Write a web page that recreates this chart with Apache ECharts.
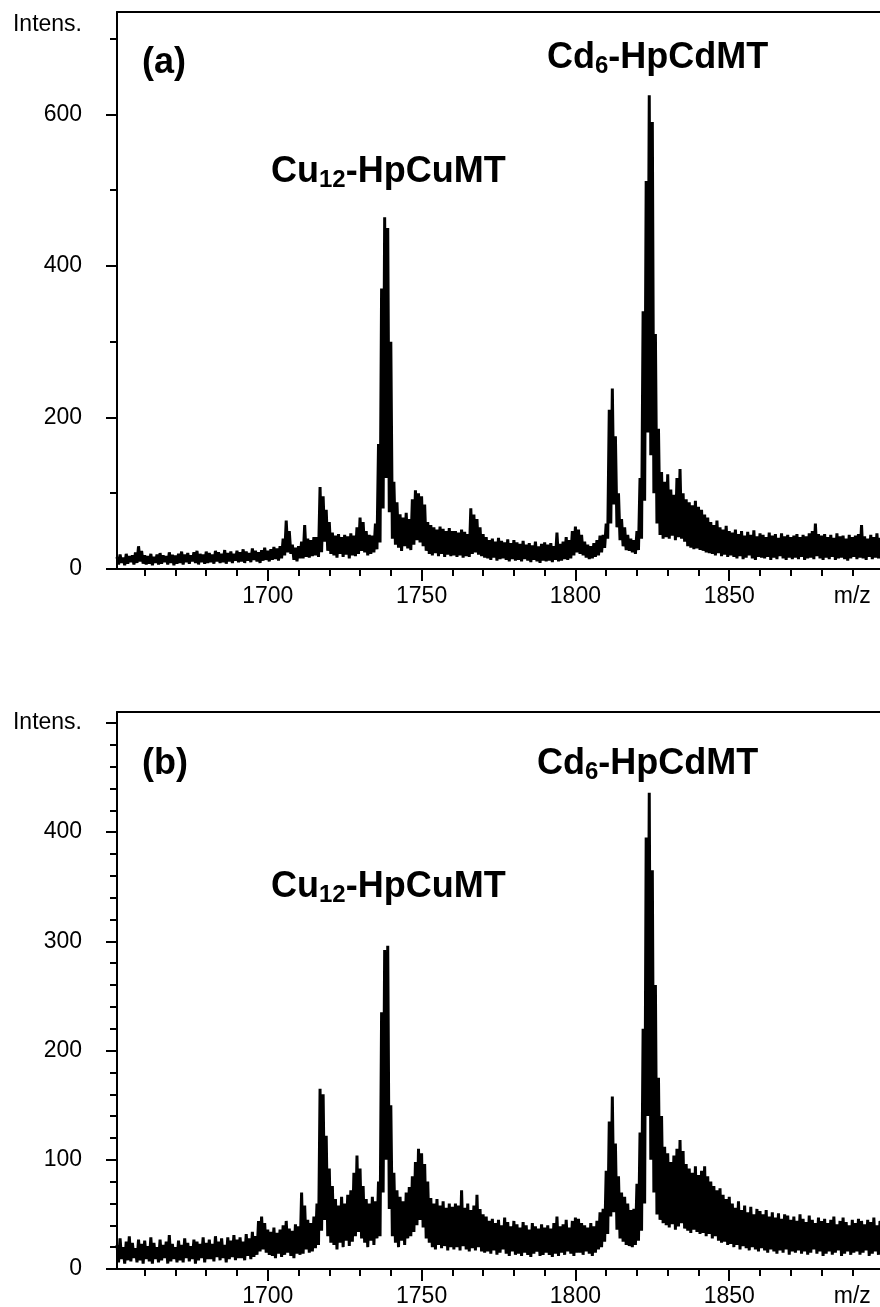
<!DOCTYPE html>
<html>
<head>
<meta charset="utf-8">
<title>Mass spectra (a) and (b)</title>
<script src="https://cdn.jsdelivr.net/npm/echarts@6/dist/echarts.min.js"></script>
<style>
  html, body { margin: 0; padding: 0; background: #fff; }
  #main { width: 880px; height: 1307px; }
</style>
</head>
<body>
<div id="main"></div>
<script>
// m/z grid: one upper and one lower reading of the noisy trace per unit
const mzStart = 1651;
const mzEnd = 1899;

const xMajorTicks = [1700, 1750, 1800, 1850];
const xMinorTicks = [1660, 1670, 1680, 1690, 1710, 1720, 1730, 1740, 1760, 1770,
  1780, 1790, 1810, 1820, 1830, 1840, 1860, 1870, 1880, 1890];
const xLabelValues = [1700, 1750, 1800, 1850, 1890]; // 1890 carries "m/z"

// panel (a)
const yMaxA = 735;
const yMajorA = [0, 200, 400, 600];
const yMinorA = [100, 300, 500, 700];
const yLabelsA = [0, 200, 400, 600, 718]; // 718 carries "Intens."

// panel (b)
const yMaxB = 510;
const yMajorB = [0, 100, 200, 300, 400, 500];
const yMinorB = [20, 40, 60, 80, 120, 140, 160, 180, 220, 240, 260, 280,
  320, 340, 360, 380, 420, 440, 460, 480];
const yLabelsB = [0, 100, 200, 300, 400, 500]; // 500 carries "Intens."

// upper edge of the trace, panel (a), m/z 1651..1899
const hiA = [
  16, 19, 15, 20, 17, 18, 22, 30, 24, 18,      // 1651
  17, 20, 16, 19, 21, 18, 17, 22, 19, 18,      // 1661
  20, 23, 19, 21, 18, 22, 24, 20, 19, 23,      // 1671
  21, 19, 24, 22, 20, 25, 21, 23, 20, 24,      // 1681
  22, 26, 23, 21, 27, 24, 22, 25, 28, 24,      // 1691
  26, 29, 27, 30, 40, 64, 50, 32, 28, 30,      // 1701
  36, 58, 40, 38, 42, 42, 108, 96, 78, 62,     // 1711
  48, 44, 46, 42, 45, 43, 47, 44, 55, 68,      // 1721
  62, 50, 45, 44, 60, 165, 370, 464, 450, 300, // 1731
  115, 88, 72, 68, 74, 66, 92, 104, 100, 96,   // 1741
  85, 62, 58, 55, 52, 56, 53, 50, 54, 50,      // 1751
  50, 48, 52, 49, 46, 80, 72, 66, 55, 46,      // 1761
  42, 38, 40, 36, 41, 37, 35, 39, 34, 38,      // 1771
  35, 33, 37, 32, 34, 31, 36, 30, 33, 35,      // 1781
  32, 34, 30, 48, 33, 36, 42, 38, 50, 56,      // 1791
  52, 45, 36, 32, 30, 34, 38, 44, 45, 60,      // 1801
  210, 238, 175, 100, 66, 55, 45, 40, 38, 50,  // 1811
  120, 340, 512, 625, 590, 310, 185, 128, 115, 125, // 1821
  105, 98, 120, 132, 100, 92, 88, 84, 90, 82,  // 1831
  78, 72, 68, 62, 58, 64, 55, 52, 57, 50,      // 1841
  48, 52, 46, 50, 44, 49, 45, 51, 43, 47,      // 1851
  45, 42, 48, 44, 46, 41, 47, 43, 45, 42,      // 1861
  44, 46, 42, 45, 43, 47, 50, 60, 46, 44,      // 1871
  46, 42, 45, 41, 47, 43, 44, 40, 45, 42,      // 1881
  44, 46, 58, 43, 40, 45, 42, 47, 41           // 1891
];

// lower edge of the trace, panel (a)
const loA = [
  6, 8, 5, 7, 9, 6, 8, 10, 7, 6,
  7, 5, 8, 6, 7, 9, 6, 8, 5, 7,
  8, 6, 9, 7, 10, 8, 6, 9, 7, 8,
  9, 7, 10, 8, 9, 7, 10, 8, 11, 9,
  10, 8, 11, 9, 12, 10, 8, 11, 12, 10,
  12, 13, 11, 14, 18, 22, 20, 12, 10, 14,
  14, 16, 15, 17, 18, 16, 22, 36, 24, 20,
  18, 15, 20, 16, 19, 14, 18, 17, 20, 24,
  22, 18, 20, 22, 26, 35, 80, 120, 75, 40,
  32, 28, 24, 30, 27, 25, 32, 38, 35, 30,
  24, 20, 18, 21, 17, 20, 16, 19, 17, 18,
  16, 18, 15, 17, 16, 20, 22, 19, 17, 15,
  14, 12, 15, 11, 13, 14, 12, 10, 13, 11,
  12, 10, 13, 11, 9, 12, 10, 8, 11, 10,
  11, 9, 12, 10, 11, 13, 12, 14, 18, 22,
  20, 18, 15, 13, 14, 16, 18, 22, 28, 40,
  60, 85, 55, 38, 30, 25, 24, 22, 20, 25,
  40, 90, 180, 150, 100, 60, 45, 40, 42, 40,
  44, 38, 42, 40, 36, 30, 28, 26, 27, 25,
  24, 22, 21, 20, 18, 21, 17, 19, 16, 18,
  16, 14, 17, 13, 15, 18, 14, 12, 16, 15,
  14, 16, 12, 15, 13, 17, 14, 12, 15, 13,
  15, 13, 16, 12, 14, 15, 13, 17, 14, 12,
  15, 13, 16, 12, 14, 15, 13, 11, 14, 16,
  13, 15, 14, 12, 16, 13, 15, 14, 12
];

// upper edge of the trace, panel (b)
const hiB = [
  22, 28, 20, 25, 30, 24, 19, 27, 23, 26,      // 1651
  21, 29, 24, 20, 27, 22, 25, 31, 23, 20,      // 1661
  26, 22, 28, 24, 21, 27, 25, 23, 29, 24,      // 1671
  27, 23, 30, 25, 28, 22, 29, 26, 31, 27,      // 1681
  29, 25, 32, 28, 34, 30, 44, 48, 42, 36,      // 1691
  34, 38, 33, 36, 40, 44, 37, 35, 41, 39,      // 1701
  70, 58, 45, 42, 48, 60, 165, 160, 122, 92,   // 1711
  76, 64, 58, 66, 60, 68, 72, 88, 104, 92,     // 1721
  76, 64, 60, 66, 62, 80, 235, 292, 296, 150,  // 1731
  88, 72, 66, 62, 70, 75, 85, 98, 110, 106,    // 1741
  96, 80, 65, 60, 64, 58, 62, 56, 60, 57,      // 1751
  60, 58, 72, 56, 60, 54, 58, 68, 55, 50,      // 1761
  48, 44, 46, 42, 45, 40, 47, 43, 39, 44,      // 1771
  41, 38, 43, 40, 36, 42, 39, 37, 41, 38,      // 1781
  40, 37, 42, 48, 39, 41, 45, 38, 44, 47,      // 1791
  46, 42, 40, 38, 42, 39, 44, 52, 55, 90,      // 1801
  135, 158, 115, 85, 70, 66, 60, 54, 55, 78,   // 1811
  125, 220, 395, 436, 365, 260, 175, 140, 112, 106, // 1821
  98, 104, 110, 118, 108, 96, 92, 88, 94, 86,  // 1831
  90, 94, 85, 80, 76, 72, 74, 68, 64, 66,      // 1841
  60, 56, 62, 54, 58, 52, 57, 50, 55, 53,      // 1851
  50, 54, 48, 52, 47, 51, 46, 50, 49, 45,      // 1861
  48, 44, 50, 46, 43, 49, 45, 42, 47, 44,      // 1871
  46, 42, 45, 48, 41, 44, 47, 43, 40, 45,      // 1881
  42, 46, 44, 41, 45, 43, 47, 40, 44           // 1891
];

// lower edge of the trace, panel (b)
const loB = [
  6, 9, 5, 8, 7, 10, 6, 8, 5, 9,
  7, 5, 9, 6, 8, 10, 5, 7, 9, 6,
  8, 6, 10, 7, 9, 5, 8, 10, 6, 9,
  9, 7, 11, 8, 10, 6, 9, 11, 8, 10,
  10, 8, 12, 9, 11, 13, 16, 18, 15, 13,
  12, 10, 14, 11, 13, 15, 12, 10, 14, 13,
  14, 18, 15, 16, 19, 22, 35, 45, 30, 24,
  22, 18, 24, 20, 26, 21, 25, 30, 34, 28,
  24, 20, 26, 22, 28, 30, 70, 100, 55, 30,
  24, 20, 26, 22, 28, 30, 34, 40, 45, 38,
  28, 24, 20, 18, 22, 19, 21, 17, 20, 18,
  20, 17, 21, 18, 16, 19, 17, 20, 16, 15,
  16, 14, 17, 13, 15, 18, 14, 12, 16, 13,
  14, 12, 15, 13, 11, 14, 16, 12, 13, 15,
  13, 11, 14, 12, 15, 13, 16, 14, 12, 15,
  15, 13, 16, 14, 12, 15, 18, 20, 25, 32,
  48, 52, 36, 28, 25, 22, 21, 20, 22, 26,
  35, 60, 140, 100, 70, 50, 45, 42, 40, 38,
  41, 36, 39, 42, 37, 35, 33, 36, 34, 32,
  33, 30, 32, 28, 30, 26, 24, 25, 22, 23,
  20, 22, 18, 21, 19, 17, 20, 18, 16, 19,
  17, 15, 18, 16, 14, 17, 15, 18, 13, 16,
  15, 17, 14, 16, 13, 15, 18, 14, 16, 12,
  14, 16, 13, 15, 17, 12, 14, 16, 13, 15,
  16, 13, 15, 17, 12, 14, 16, 13, 15
];

const black = '#000';
const font = 'Liberation Sans, Arial, Helvetica, sans-serif';
const axisStroke = { color: black, width: 2 };

// the trace swings between its upper and lower reading every half unit
function trace(hi, lo) {
  const pts = [];
  for (let i = 0; i < hi.length; i++) {
    pts.push([mzStart + i, hi[i]]);
    pts.push([mzStart + i + 0.5, lo[i]]);
  }
  return pts;
}

function xAxes(grid) {
  const base = { gridIndex: grid, type: 'value', min: mzStart, max: mzEnd, splitLine: { show: false }, z: 5 };
  return [
    Object.assign({}, base, {
      position: 'bottom',
      axisLine: { onZero: false, lineStyle: axisStroke },
      axisTick: { length: 12, customValues: xMajorTicks, lineStyle: axisStroke },
      axisLabel: {
        customValues: xLabelValues,
        formatter: (v) => (v === 1890 ? 'm/z' : String(v)),
        color: black, fontSize: 23, fontFamily: font, margin: 16
      }
    }),
    Object.assign({}, base, {
      position: 'bottom',
      axisLine: { show: false, onZero: false },
      axisTick: { length: 7, customValues: xMinorTicks, lineStyle: axisStroke },
      axisLabel: { show: false }
    }),
    Object.assign({}, base, {
      position: 'top',
      axisLine: { onZero: false, lineStyle: axisStroke },
      axisTick: { show: false },
      axisLabel: { show: false }
    })
  ];
}

function yAxes(grid, max, major, minor, labels, intensAt) {
  const base = { gridIndex: grid, type: 'value', min: 0, max: max, position: 'left', splitLine: { show: false }, z: 5 };
  return [
    Object.assign({}, base, {
      axisLine: { onZero: false, lineStyle: axisStroke },
      axisTick: { length: 11, customValues: major, lineStyle: axisStroke },
      axisLabel: {
        customValues: labels,
        formatter: (v) => (v === intensAt ? 'Intens.' : String(v)),
        color: black, fontSize: 23, fontFamily: font, margin: 35
      }
    }),
    Object.assign({}, base, {
      axisLine: { show: false, onZero: false },
      axisTick: { length: 7, customValues: minor, lineStyle: axisStroke },
      axisLabel: { show: false }
    })
  ];
}

const rich = {
  b: { fontSize: 36, fontWeight: 'bold', fontFamily: font, lineHeight: 40, fill: black },
  s: { fontSize: 24, fontWeight: 'bold', fontFamily: font, lineHeight: 26, verticalAlign: 'bottom', fill: black }
};

function label(text, x, y) {
  return {
    type: 'text', x: x, y: y, silent: true,
    style: { text: text, rich: rich, align: 'left', verticalAlign: 'top', fill: black }
  };
}

function spectrum(xIndex, yIndex, hi, lo) {
  return {
    type: 'line', xAxisIndex: xIndex, yAxisIndex: yIndex, data: trace(hi, lo),
    symbol: 'none', showSymbol: false, silent: true, clip: true,
    lineStyle: { color: black, width: 3, join: 'bevel' }, itemStyle: { color: black }
  };
}

const chart = echarts.init(document.getElementById('main'), null, { renderer: 'canvas' });

chart.setOption({
  animation: false,
  backgroundColor: '#fff',
  grid: [
    { left: 117, top: 12, right: 0, height: 557, outerBoundsMode: 'none' },
    { left: 117, top: 712, right: 0, height: 557, outerBoundsMode: 'none' }
  ],
  xAxis: xAxes(0).concat(xAxes(1)),
  yAxis: yAxes(0, yMaxA, yMajorA, yMinorA, yLabelsA, 718)
    .concat(yAxes(1, yMaxB, yMajorB, yMinorB, yLabelsB, 500)),
  series: [
    spectrum(0, 0, hiA, loA),
    spectrum(3, 2, hiB, loB)
  ],
  graphic: [
    label('{b|(a)}', 142, 43),
    label('{b|Cd}{s|6}{b|-HpCdMT}', 547, 38),
    label('{b|Cu}{s|12}{b|-HpCuMT}', 271, 152),
    label('{b|(b)}', 142, 744),
    label('{b|Cd}{s|6}{b|-HpCdMT}', 537, 744),
    label('{b|Cu}{s|12}{b|-HpCuMT}', 271, 867)
  ]
});

window.addEventListener('resize', () => chart.resize());
</script>
</body>
</html>
